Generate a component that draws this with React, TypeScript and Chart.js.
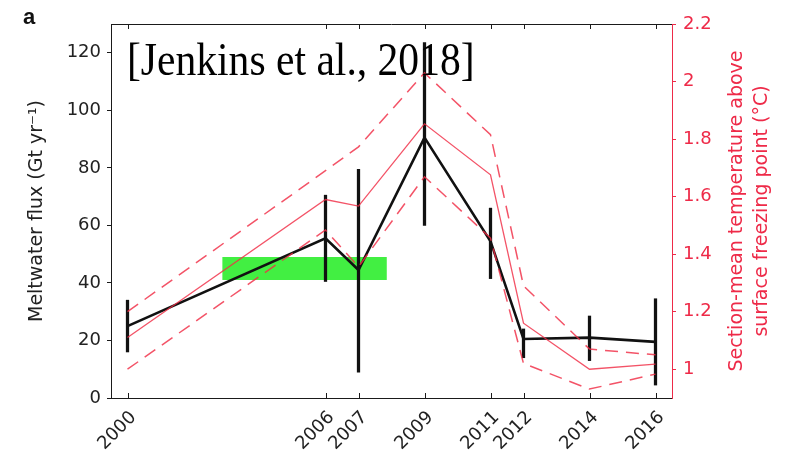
import React, { useEffect, useRef } from "react";
import { Chart, registerables } from "chart.js";

Chart.register(...registerables);

// ---- data ----
const years = [2000, 2006, 2007, 2009, 2011, 2012, 2014, 2016];
const xTickLabels = ["2000", "2006", "2007", "2009", "2011", "2012", "2014", "2016"];

const meltwater = [25, 55.5, 44.5, 90.5, 54.5, 20.5, 21, 19.5];
const meltLow = [16, 40.5, 9, 60, 41.5, 14, 13, 4.5];
const meltHigh = [34, 70.5, 79.5, 123.5, 66, 24, 28.5, 34.5];

const temperature = [1.11, 1.59, 1.567, 1.853, 1.676, 1.16, 1.0, 1.018];
const tempUpper = [1.2, 1.69, 1.773, 2.03, 1.815, 1.29, 1.07, 1.05];
const tempLower = [1.0, 1.484, 1.356, 1.669, 1.456, 1.02, 0.931, 0.983];

const greenBoxYears = [2002.87, 2007.86];
const greenBoxTop = [49, 49];
const greenBoxBottom = [41, 41];

const leftTicks = [0, 20, 40, 60, 80, 100, 120];
const leftTickLabels = ["0", "20", "40", "60", "80", "100", "120"];
const rightTicks = [1, 1.2, 1.4, 1.6, 1.8, 2, 2.2];
const rightTickLabels = ["1", "1.2", "1.4", "1.6", "1.8", "2", "2.2"];

const leftTitle = "Meltwater flux (Gt yr\u207B\u00B9)";
const rightTitleLines = ["Section-mean temperature above", "surface freezing point (\u00B0C)"];
const citation = "[Jenkins et al., 2018]";
const panelLabel = "a";

const RED = "#ee2a48";
const RED_LINE = "rgba(240, 45, 70, 0.82)";
const INK = "#1a1a1a";
const TICK_FONT = { family: "'DejaVu Sans'", size: 18 };

const decorations = {
  id: "decorations",
  afterDraw(chart: any) {
    const { ctx, chartArea: ca, scales } = chart;
    const xs = scales.x;
    ctx.save();
    // top border
    ctx.strokeStyle = INK;
    ctx.lineWidth = 1;
    ctx.beginPath();
    ctx.moveTo(ca.left, Math.round(ca.top) + 0.5);
    ctx.lineTo(ca.right, Math.round(ca.top) + 0.5);
    ctx.stroke();
    // inward ticks on bottom and top
    ctx.beginPath();
    years.forEach((yr) => {
      const px = Math.round(xs.getPixelForValue(yr)) + 0.5;
      ctx.moveTo(px, ca.bottom);
      ctx.lineTo(px, ca.bottom - 5);
      ctx.moveTo(px, ca.top);
      ctx.lineTo(px, ca.top + 5);
    });
    ctx.stroke();

    // left title
    ctx.fillStyle = "#222";
    ctx.font = "19px 'DejaVu Sans'";
    ctx.textAlign = "center";
    ctx.textBaseline = "middle";
    ctx.save();
    ctx.translate(37, 211);
    ctx.rotate(-Math.PI / 2);
    ctx.fillText(leftTitle, 0, 0);
    ctx.restore();

    // right title (reads bottom to top)
    ctx.fillStyle = RED;
    const lineX = [737, 762];
    rightTitleLines.forEach((line, i) => {
      ctx.save();
      ctx.translate(lineX[i], 211);
      ctx.rotate(-Math.PI / 2);
      ctx.fillText(line, 0, 0);
      ctx.restore();
    });

    // citation
    ctx.fillStyle = "#000";
    ctx.textAlign = "left";
    ctx.textBaseline = "alphabetic";
    ctx.font = "42px 'Liberation Serif'";
    ctx.save();
    ctx.translate(127, 75);
    ctx.scale(0.99, 1.12);
    ctx.fillText(citation, 0, 0);
    ctx.restore();

    // panel label
    ctx.font = "bold 22px 'Liberation Sans'";
    ctx.fillStyle = "#111";
    ctx.fillText(panelLabel, 23, 24);
    ctx.restore();
  },
};

export default function App() {
  const ref = useRef<HTMLCanvasElement | null>(null);

  useEffect(() => {
    document.body.style.margin = "0";
    const canvas = ref.current;
    if (!canvas) return;
    const pts = (vals: number[]) => years.map((x, i) => ({ x, y: vals[i] }));

    const chart = new Chart(canvas, {
      type: "line",
      data: {
        datasets: [
          {
            label: "temperature",
            data: pts(temperature),
            yAxisID: "y2",
            borderColor: RED_LINE,
            borderWidth: 1.3,
            pointRadius: 0,
            tension: 0,
            fill: false,
          },
          {
            label: "temperature upper",
            data: pts(tempUpper),
            yAxisID: "y2",
            borderColor: RED_LINE,
            borderWidth: 1.5,
            borderDash: [13, 8],
            pointRadius: 0,
            tension: 0,
            fill: false,
          },
          {
            label: "temperature lower",
            data: pts(tempLower),
            yAxisID: "y2",
            borderColor: RED_LINE,
            borderWidth: 1.5,
            borderDash: [13, 8],
            pointRadius: 0,
            tension: 0,
            fill: false,
          },
          {
            label: "meltwater",
            data: pts(meltwater),
            yAxisID: "y",
            borderColor: "#111",
            borderWidth: 2.6,
            pointRadius: 0,
            tension: 0,
            fill: false,
          },
          {
            type: "bar",
            label: "meltwater range",
            data: years.map((x, i) => ({ x, y: [meltLow[i], meltHigh[i]] })) as any,
            yAxisID: "y",
            backgroundColor: "#111",
            borderWidth: 0,
            barThickness: 2.6,
          } as any,
          {
            label: "box top",
            data: greenBoxYears.map((x, i) => ({ x, y: greenBoxTop[i] })),
            yAxisID: "y",
            borderWidth: 0,
            borderColor: "rgba(0,0,0,0)",
            backgroundColor: "#42ef42",
            pointRadius: 0,
            fill: "+1",
          },
          {
            label: "box bottom",
            data: greenBoxYears.map((x, i) => ({ x, y: greenBoxBottom[i] })),
            yAxisID: "y",
            borderWidth: 0,
            borderColor: "rgba(0,0,0,0)",
            pointRadius: 0,
            fill: false,
          },
        ],
      },
      options: {
        responsive: false,
        animation: false,
        layout: { padding: { top: 24, left: 0, right: 0, bottom: 0 } },
        plugins: { legend: { display: false }, tooltip: { enabled: false } },
        scales: {
          x: {
            type: "linear",
            min: 1999.5,
            max: 2016.5,
            offset: false,
            afterBuildTicks: (s: any) => {
              s.ticks = years.map((v) => ({ value: v }));
            },
            afterFit: (s: any) => {
              s.height = 58;
            },
            grid: { drawOnChartArea: false, drawTicks: false, offset: false },
            border: { display: true, color: INK, width: 1 },
            ticks: {
              autoSkip: false,
              minRotation: 45,
              maxRotation: 45,
              padding: 9,
              labelOffset: 6,
              color: "#222",
              font: TICK_FONT,
              callback: (_v: any, i: number) => xTickLabels[i],
            },
          },
          y: {
            type: "linear",
            position: "left",
            min: 0,
            max: 130,
            afterBuildTicks: (s: any) => {
              s.ticks = leftTicks.map((v) => ({ value: v }));
            },
            afterFit: (s: any) => {
              s.width = 111;
            },
            grid: { drawOnChartArea: false, drawTicks: true, tickLength: 4, color: INK },
            border: { display: true, color: INK, width: 1 },
            ticks: {
              padding: 6,
              color: "#222",
              font: TICK_FONT,
              callback: (_v: any, i: number) => leftTickLabels[i],
            },
          },
          y2: {
            type: "linear",
            position: "right",
            min: 0.9,
            max: 2.2,
            afterBuildTicks: (s: any) => {
              s.ticks = rightTicks.map((v) => ({ value: v }));
            },
            afterFit: (s: any) => {
              s.width = 119;
            },
            grid: { drawOnChartArea: false, drawTicks: true, tickLength: 4, color: RED },
            border: { display: true, color: RED, width: 1 },
            ticks: {
              padding: 7,
              color: RED,
              font: TICK_FONT,
              callback: (_v: any, i: number) => rightTickLabels[i],
            },
          },
        },
      },
      plugins: [decorations],
    });

    return () => chart.destroy();
  }, []);

  return (
    <div style={{ width: 791, height: 456, background: "#fff" }}>
      <canvas ref={ref} width={791} height={456} style={{ display: "block" }} />
    </div>
  );
}
